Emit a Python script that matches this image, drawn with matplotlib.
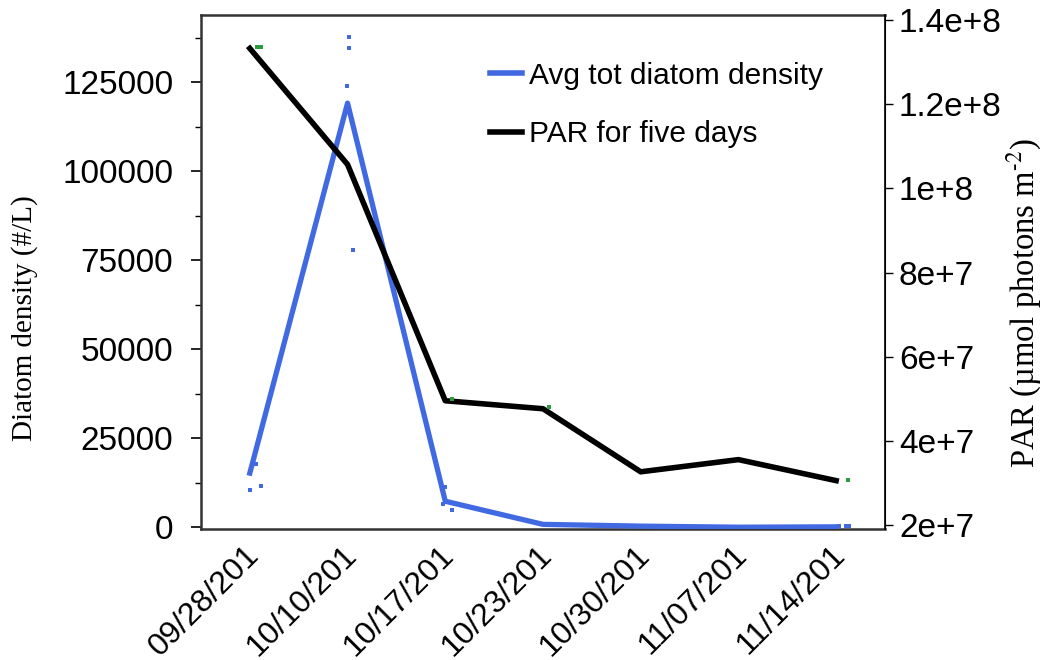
import matplotlib
matplotlib.use('Agg')
import matplotlib.pyplot as plt
import matplotlib.transforms as mtransforms
from matplotlib.ticker import MultipleLocator, FuncFormatter
from matplotlib.lines import Line2D
import numpy as np

plt.rcParams['font.family'] = ['Liberation Sans', 'DejaVu Sans']
plt.rcParams['mathtext.fontset'] = 'stix'

# даты отбора проб
dates = ['09/28/201', '10/10/201', '10/17/201', '10/23/201',
         '10/30/201', '11/07/201', '11/14/201']

# средняя плотность диатомовых (#/L)
diatom_avg = [15200, 119100, 7300, 800, 300, 0, 100]

# PAR за пять дней
par_five_days = [1.333e8, 1.057e8, 4.95e7, 4.76e7, 3.26e7, 3.55e7, 3.05e7]

# отдельные точки (синие) -- позиция по оси x и значение
rep_x = [0.0, 0.11, 0.06, 1.01, 1.01, 0.99, 1.06, 2.0, 1.98, 2.07, 6.03, 6.1, 6.13]
rep_y = [10400, 11500, 17700, 137600, 134500, 123900, 77800, 11200, 6500, 4800, 200, 200, 200]

# отдельные точки (зеленые) для PAR
par_pt_x = [0.07, 0.11, 2.07, 3.06, 6.12]
par_pt_y = [1.336e8, 1.336e8, 5.0e7, 4.79e7, 3.07e7]

blue = '#4169e1'
green = '#2e9a3e'

fig = plt.figure(figsize=(10.44, 6.6), dpi=100)
ax1 = fig.add_axes([0.1925, 0.1985, 0.6552, 0.7785])
ax2 = ax1.twinx()

x = np.arange(len(dates))

ax1.plot(x, diatom_avg, color=blue, lw=3.8, zorder=3)
ax1.scatter(rep_x, rep_y, s=5, marker='s', color=blue, linewidths=0, zorder=4)

ax2.plot(x, par_five_days, color='black', lw=4.0, zorder=3)
ax2.scatter(par_pt_x, par_pt_y, s=5, marker='s', color=green, linewidths=0, zorder=4)

ax1.set_xlim(-0.5, 6.5)
ax1.set_ylim(-500, 143800)
ax2.set_ylim(1.9e7, 1.412e8)

ax1.yaxis.set_major_locator(MultipleLocator(25000))
ax1.yaxis.set_minor_locator(MultipleLocator(12500))
ax1.tick_params(axis='y', which='major', length=7, width=1.2, pad=13, labelsize=24)
ax1.tick_params(axis='y', which='minor', length=4, width=1.0)

ax1.set_xticks(x)
ax1.set_xticklabels(dates, rotation=45, ha='right', rotation_mode='anchor', fontsize=23)
ax1.tick_params(axis='x', length=0, pad=8)
shift = mtransforms.ScaledTranslation(-6 / 100, 0, fig.dpi_scale_trans)
for lbl in ax1.get_xticklabels():
    lbl.set_transform(lbl.get_transform() + shift)

ax2.yaxis.set_major_locator(MultipleLocator(2e7))


def sci_fmt(v, pos):
    if v <= 0:
        return ''
    exp = int(np.floor(np.log10(v) + 1e-9))
    mant = v / 10 ** exp
    return f'{mant:g}e+{exp}'


ax2.yaxis.set_major_formatter(FuncFormatter(sci_fmt))
ax2.tick_params(axis='y', length=6, width=1.0, pad=4, labelsize=24)

for s in ['left', 'bottom', 'top']:
    ax1.spines[s].set_linewidth(1.8)
    ax1.spines[s].set_color('#333333')
ax2.spines['right'].set_linewidth(1.2)
for s in ['left', 'bottom', 'top']:
    ax2.spines[s].set_visible(False)

ax1.set_ylabel('Diatom density (#/L)', family='Liberation Serif', fontsize=21)
ax1.yaxis.set_label_coords(-0.238, 0.41)
ax2.set_ylabel('PAR (µmol photons m$^{\\text{-}2}$)', family='Liberation Serif', fontsize=23.5)
ax2.yaxis.set_label_coords(1.176, 0.44)

handles = [Line2D([], [], color=blue, lw=4),
           Line2D([], [], color='black', lw=4)]
ax1.legend(handles, ['Avg tot diatom density', 'PAR for five days'],
           loc='upper left', bbox_to_anchor=(0.383, 0.962), frameon=False,
           fontsize=21.5, handlelength=1.07, handletextpad=0.25, labelspacing=1.03)

plt.savefig('out.png', dpi=100)
